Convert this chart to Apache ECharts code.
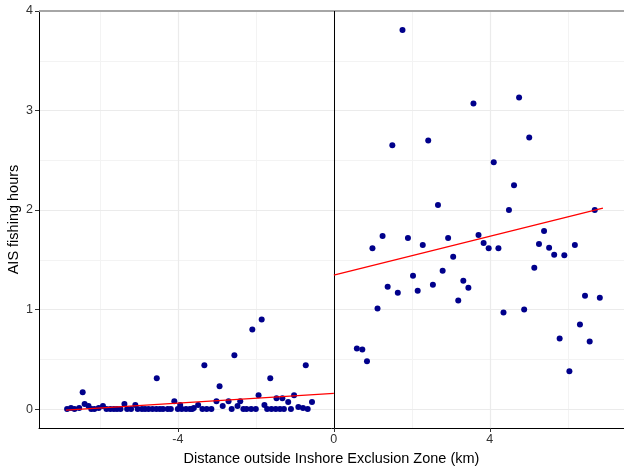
<!DOCTYPE html>
<html><head><meta charset="utf-8">
<script src="https://cdn.jsdelivr.net/npm/echarts@6/dist/echarts.min.js"></script>
<style>html,body{margin:0;padding:0;background:#fff}#c{width:624px;height:468px}</style>
</head><body><div id="c"></div>
<script>
// Inside (negative distance) points
const leftX = [-6.84,-6.74,-6.65,-6.53,-6.44,-6.39,-6.29,-6.22,-6.14,-6.03,-5.92,-5.83,-5.73,-5.64,-5.56,-5.47,-5.37,-5.30,-5.20,-5.09,-5.03,-4.92,-4.84,-4.75,-4.65,-4.55,-4.54,-4.46,-4.38,-4.26,-4.18,-4.09,-4.00,-3.94,-3.90,-3.79,-3.69,-3.63,-3.59,-3.48,-3.37,-3.32,-3.26,-3.14,-3.01,-2.93,-2.85,-2.70,-2.62,-2.55,-2.47,-2.40,-2.32,-2.24,-2.12,-2.09,-2.00,-1.93,-1.85,-1.78,-1.71,-1.63,-1.60,-1.49,-1.47,-1.38,-1.32,-1.28,-1.17,-1.10,-1.02,-0.91,-0.79,-0.72,-0.67,-0.56];
const leftY = [0.00,0.01,0.00,0.01,0.17,0.05,0.03,0.00,0.00,0.01,0.03,0.00,0.00,0.00,0.00,0.00,0.05,0.00,0.00,0.04,0.00,0.00,0.00,0.00,0.00,0.00,0.31,0.00,0.00,0.00,0.00,0.08,0.00,0.04,0.00,0.00,0.00,0.00,0.01,0.04,0.00,0.44,0.00,0.00,0.08,0.23,0.03,0.08,0.00,0.54,0.03,0.08,0.00,0.00,0.00,0.80,0.00,0.14,0.90,0.04,0.00,0.31,0.00,0.00,0.11,0.00,0.11,0.00,0.07,0.00,0.14,0.02,0.01,0.44,0.00,0.07];
// Outside (positive distance) points
const rightX = [0.59,0.73,0.85,0.99,1.12,1.25,1.38,1.50,1.64,1.76,1.90,2.03,2.15,2.28,2.42,2.54,2.67,2.79,2.93,3.06,3.19,3.32,3.45,3.58,3.71,3.84,3.97,4.10,4.22,4.35,4.49,4.62,4.75,4.88,5.01,5.14,5.26,5.39,5.52,5.65,5.79,5.91,6.04,6.18,6.31,6.44,6.56,6.69,6.82];
const rightY = [0.61,0.60,0.48,1.615,1.01,1.74,1.23,2.65,1.17,3.81,1.72,1.34,1.19,1.65,2.70,1.25,2.05,1.39,1.72,1.53,1.09,1.29,1.22,3.07,1.75,1.67,1.615,2.48,1.615,0.97,2.00,2.25,3.13,1.00,2.73,1.42,1.66,1.79,1.62,1.55,0.71,1.545,0.38,1.65,0.85,1.14,0.68,2.00,1.12];
// Fitted lines (endpoints)
const fitLeftX = [-6.87, 0];
const fitLeftY = [-0.01, 0.157];
const fitRightX = [0, 6.9];
const fitRightY = [1.345, 2.02];
// Axis ticks
const xTicks = [-4, 0, 4];
const xMinor = [-6, -2, 2, 6];
const yTicks = [0, 1, 2, 3, 4];
const yMinor = [0.5, 1.5, 2.5, 3.5];
const xRange = [-7.56, 7.44];
const yRange = [-0.19, 4];

const zip = (a, b) => a.map((v, i) => [v, b[i]]);
const font = 'Liberation Sans, Arial, sans-serif';

const gridLines = [];
xMinor.forEach(v => gridLines.push({xAxis: v, lineStyle: {color: '#F3F3F3', width: 1, type: 'solid'}}));
yMinor.forEach(v => gridLines.push({yAxis: v, lineStyle: {color: '#F3F3F3', width: 1, type: 'solid'}}));
xTicks.forEach(v => gridLines.push({xAxis: v, lineStyle: {color: '#EBEBEB', width: 1.2, type: 'solid'}}));
yTicks.forEach(v => gridLines.push({yAxis: v, lineStyle: {color: '#EBEBEB', width: 1.2, type: 'solid'}}));

const chart = echarts.init(document.getElementById('c'), null, {renderer: 'canvas'});
chart.setOption({
  animation: false,
  backgroundColor: '#fff',
  grid: {left: 39, right: 0, top: 11, bottom: 40, containLabel: false, outerBoundsMode: 'none'},
  xAxis: {
    type: 'value', min: xRange[0], max: xRange[1],
    name: 'Distance outside Inshore Exclusion Zone (km)', nameLocation: 'middle', nameGap: 23, nameMoveOverlap: false,
    nameTextStyle: {fontFamily: font, fontSize: 14.5, color: '#000'},
    axisLine: {show: true, onZero: false, lineStyle: {color: '#000', width: 1}},
    axisTick: {show: true, length: 4, customValues: xTicks, lineStyle: {color: '#333'}},
    axisLabel: {customValues: xTicks, fontFamily: font, fontSize: 12.5, color: '#333', margin: 5},
    splitLine: {show: false}
  },
  yAxis: {
    type: 'value', min: yRange[0], max: yRange[1],
    name: 'AIS fishing hours', nameLocation: 'middle', nameGap: 18, nameRotate: 90, nameMoveOverlap: false,
    nameTextStyle: {fontFamily: font, fontSize: 14.5, color: '#000'},
    axisLine: {show: true, onZero: false, lineStyle: {color: '#000', width: 1}},
    axisTick: {show: true, length: 4, customValues: yTicks, lineStyle: {color: '#333'}},
    axisLabel: {customValues: yTicks, fontFamily: font, fontSize: 12.5, color: '#333', margin: 6},
    splitLine: {show: false}
  },
  series: [
    {
      type: 'scatter', data: [], silent: true, z: 1,
      markLine: {silent: true, z: 0, symbol: 'none', label: {show: false}, animation: false, data: gridLines}
    },
    {
      type: 'scatter', data: [], silent: true, z: 2,
      markLine: {silent: true, z: 1, symbol: 'none', label: {show: false}, animation: false, data: [
        {yAxis: 4, lineStyle: {color: '#A6A6A6', width: 2, type: 'solid'}},
        {xAxis: 0, lineStyle: {color: '#000', width: 1, type: 'solid'}}
      ]}
    },
    {type: 'scatter', data: zip(leftX, leftY), symbolSize: 6, itemStyle: {color: '#00008B', opacity: 1}, z: 3},
    {type: 'scatter', data: zip(rightX, rightY), symbolSize: 6, itemStyle: {color: '#00008B', opacity: 1}, z: 3},
    {type: 'line', data: zip(fitLeftX, fitLeftY), showSymbol: false, symbol: 'none', lineStyle: {color: '#FF0000', width: 1.3}, z: 4},
    {type: 'line', data: zip(fitRightX, fitRightY), showSymbol: false, symbol: 'none', lineStyle: {color: '#FF0000', width: 1.3}, z: 4}
  ]
});
</script>
</body></html>
